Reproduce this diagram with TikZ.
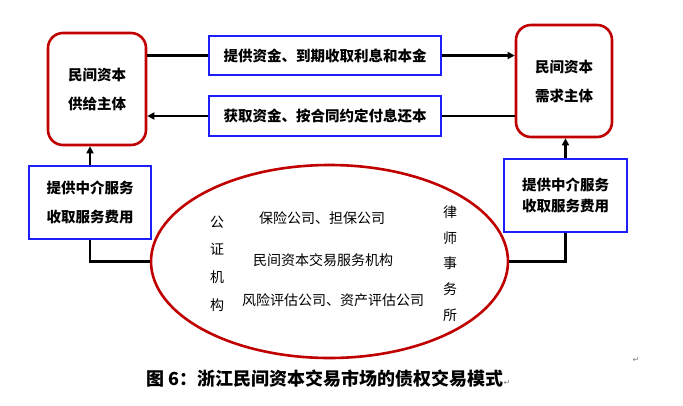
\documentclass[tikz,border=0pt]{standalone}
\usepackage{fontspec}
\setmainfont{Noto Sans CJK SC}
\newfontfamily\markfont{DejaVu Sans}
\definecolor{boxred}{RGB}{192, 0, 0}
\definecolor{boxblue}{RGB}{30, 30, 250}
\usetikzlibrary{shapes, arrows.meta, positioning, calc}

\begin{document}
\begin{tikzpicture}[x=1pt, y=-1pt,
    party/.style={draw=boxred, line width=2.6pt, rounded corners=15pt, align=center, inner sep=0pt,
      font=\bfseries\fontsize{14.5}{29}\selectfont},
    flowbox/.style={draw=boxblue, line width=1.8pt, align=center, inner sep=0pt,
      font=\bfseries\fontsize{14.5}{29}\selectfont},
    link/.style={line width=2.5pt},
    flow/.style={link, -{Triangle[length=7pt, width=7pt]}},
    cjk/.style={font=\fontsize{14}{17}\selectfont}]
  \useasboundingbox (0,0) rectangle (683,405);

  % two parties
  \node[party, minimum width=98pt, minimum height=112pt] (supply) at (97, 89) {民间资本\\供给主体};
  \node[party, minimum width=96pt, minimum height=112pt] (demand) at (564, 81) {民间资本\\需求主体};

  % money flows
  \node[flowbox, minimum width=232pt, minimum height=39pt] (lend) at (325, 55.5) {提供资金、到期收取利息和本金};
  \node[flowbox, minimum width=232pt, minimum height=40pt] (repay) at (325, 116) {获取资金、按合同约定付息还本};

  \draw[link] (lend.west -| supply.east) -- (lend.west);
  \draw[flow] (lend.east) -- (lend.east -| demand.west);
  \draw[link] (repay.east -| demand.west) -- (repay.east);
  \draw[flow] (repay.west) -- (repay.west -| supply.east);

  % intermediaries
  \node[draw=boxred, line width=2.6pt, ellipse, minimum width=357pt, minimum height=193pt] (agency) at (329.5, 261.5) {};
  \node[cjk, align=center, font=\fontsize{14}{27.7}\selectfont] (notary) at (217, 263.5) {公\\证\\机\\构};
  \node[cjk, align=center, font=\fontsize{14}{25.8}\selectfont] (lawyer) at (450, 263.5) {律\\师\\事\\务\\所};
  \node[cjk] (insure) at (322, 218) {保险公司、担保公司};
  \node[cjk] (service) at (323, 260) {民间资本交易服务机构};
  \node[cjk] (assess) at (333, 300) {风险评估公司、资产评估公司};

  \node[flowbox, minimum width=122pt, minimum height=73pt] (feeL) at (90, 202.5) {提供中介服务\\收取服务费用};
  \node[flowbox, minimum width=123pt, minimum height=73pt, font=\bfseries\fontsize{14.5}{21}\selectfont] (feeR) at (565.5, 195.5) {提供中介服务\\收取服务费用};

  \draw[flow] (feeL.north) -- (feeL.north |- supply.south);
  \draw[link] (feeL.south) |- (agency.west);
  \draw[flow] (feeR.north) -- (feeR.north |- demand.south);
  \draw[link] (feeR.south) |- (agency.east);

  % caption
  \node[font=\bfseries\fontsize{18}{20}\selectfont, anchor=west] (caption) at (143, 379) {图 6：浙江民间资本交易市场的债权交易模式{\mdseries\markfont\color{gray}\fontsize{8}{9}\selectfont ↵}};
  \node[font=\markfont\fontsize{8}{9}\selectfont, text=gray] (mark) at (636, 360) {↵};
\end{tikzpicture}
\end{document}
